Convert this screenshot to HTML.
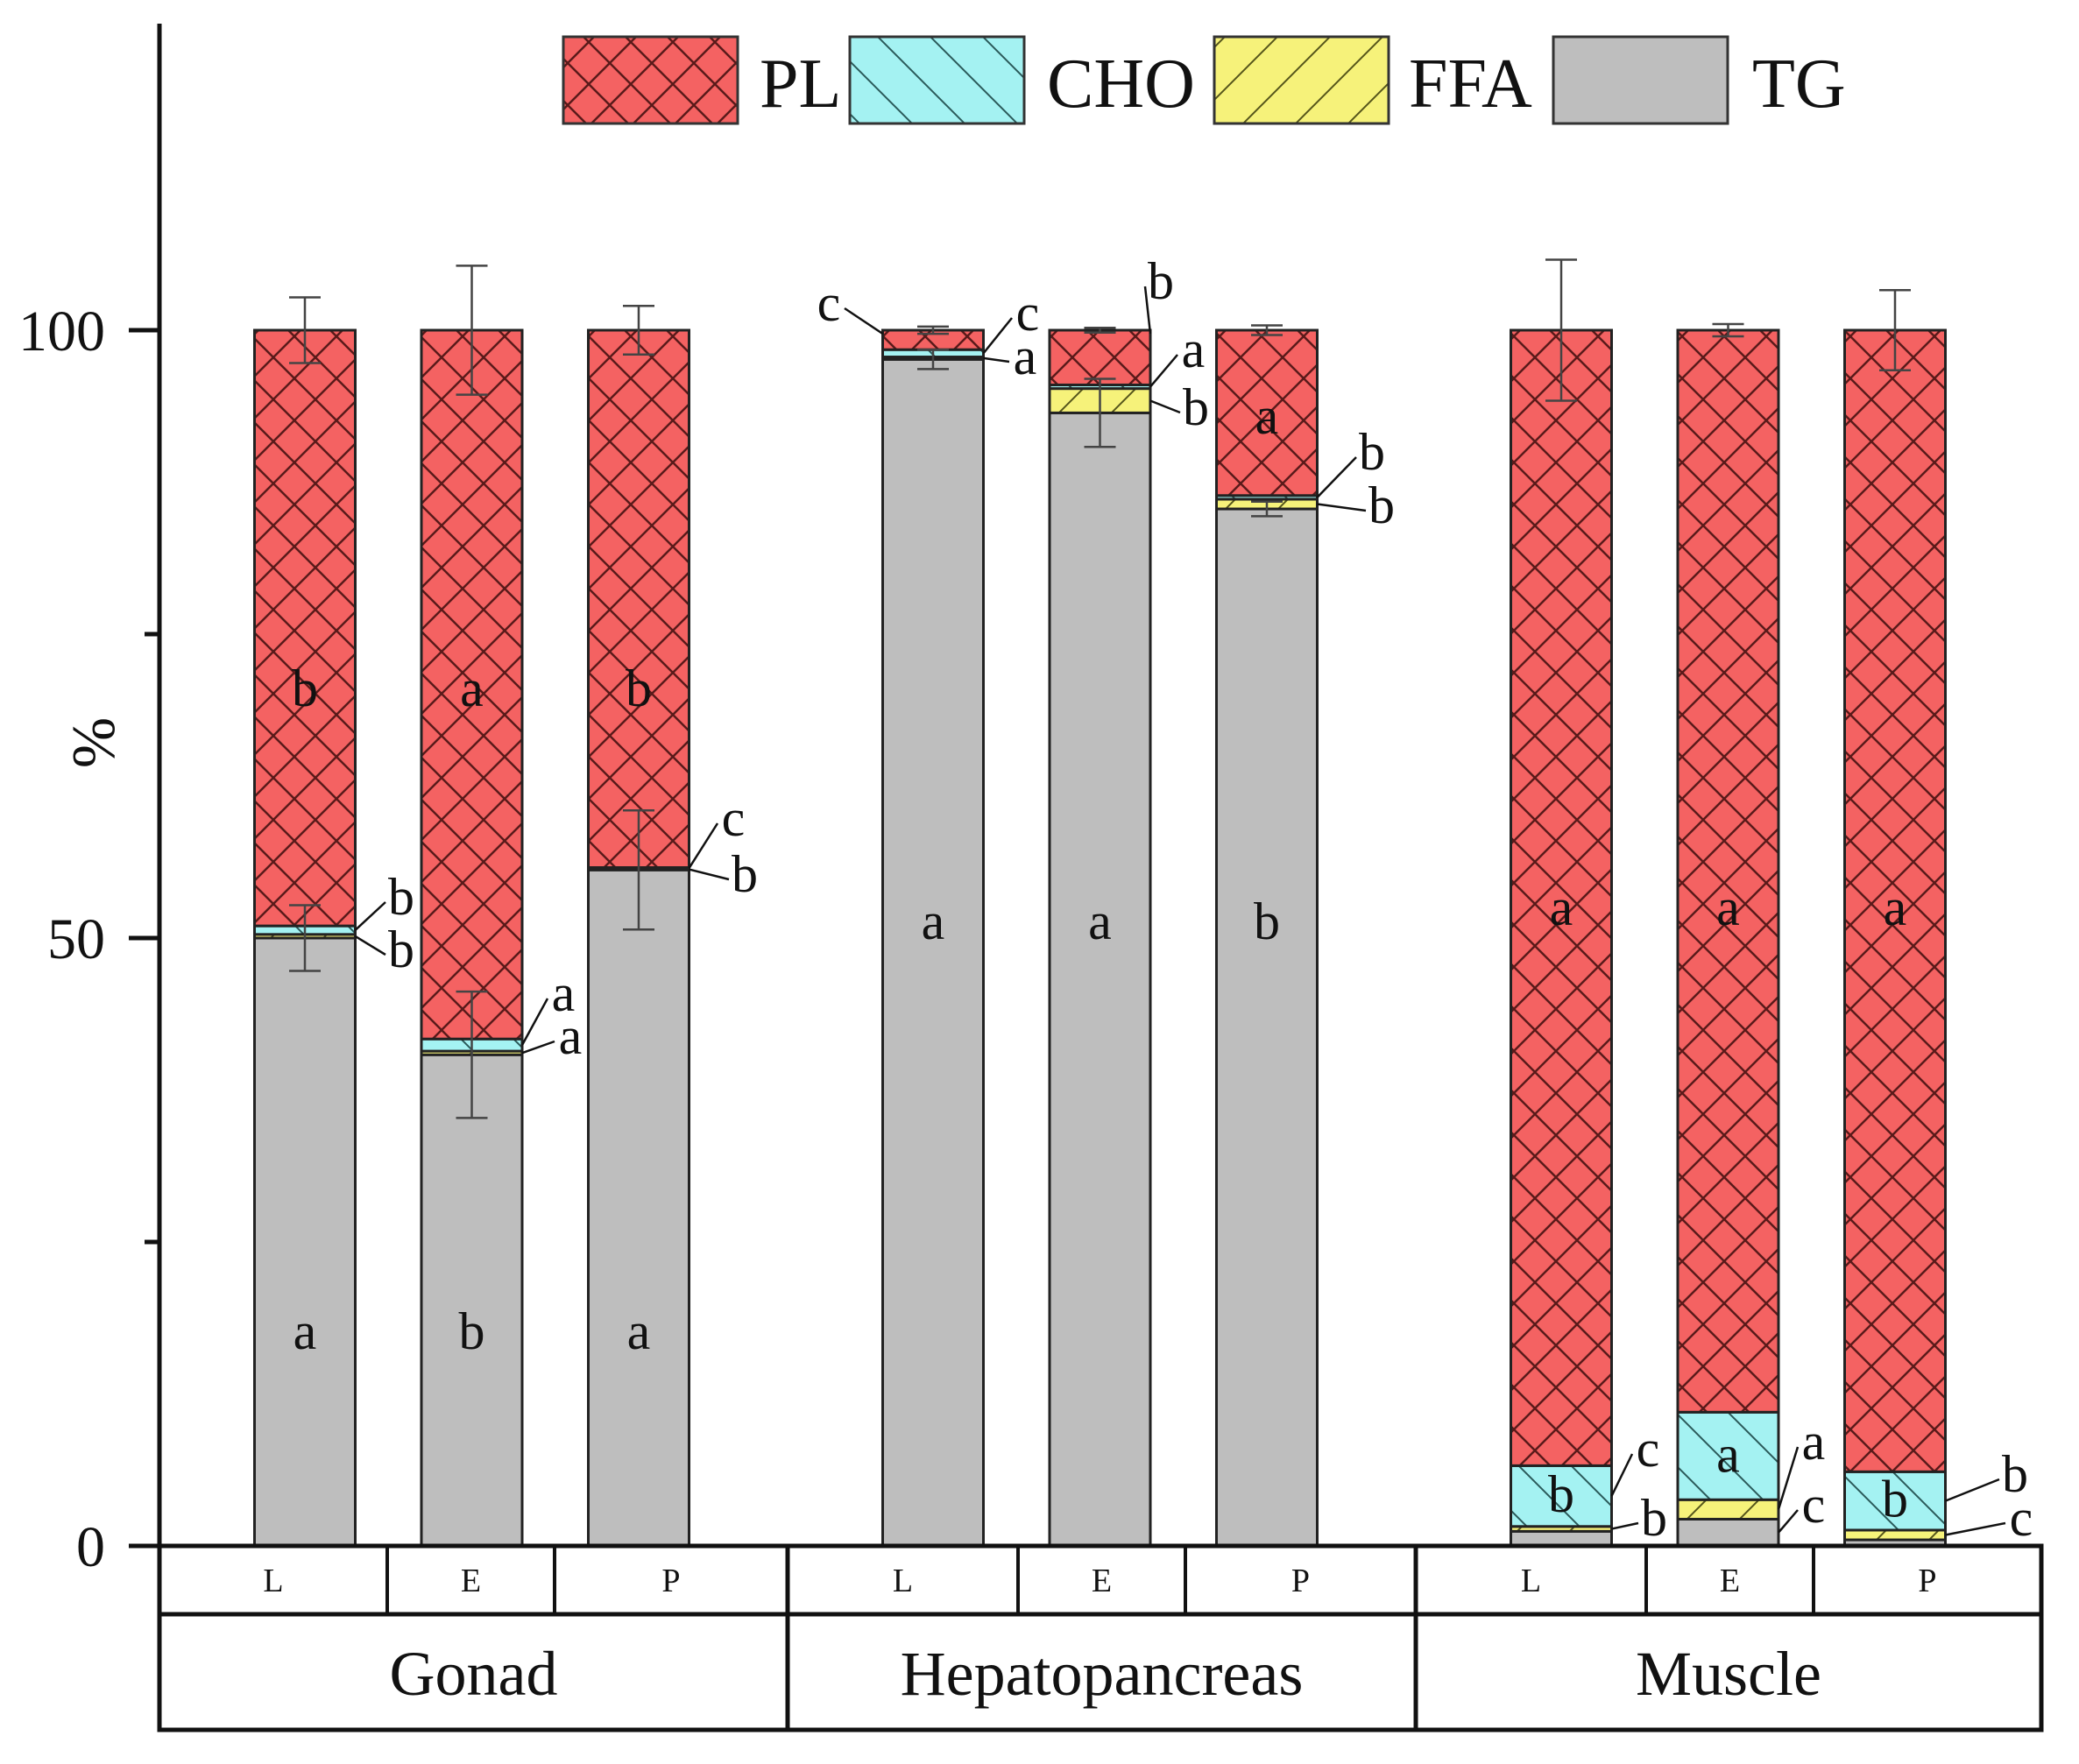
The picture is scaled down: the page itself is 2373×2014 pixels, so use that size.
<!DOCTYPE html>
<html><head><meta charset="utf-8"><style>
html,body{margin:0;padding:0;background:#fff;}
svg{display:block;}
text{font-family:"Liberation Serif",serif;fill:#111;}
</style></head><body>
<svg id="chart" width="2373" height="2014" viewBox="0 0 2373 2014" xmlns="http://www.w3.org/2000/svg">
<defs>
<pattern id="pPL" patternUnits="userSpaceOnUse" width="48" height="48"><rect width="48" height="48" fill="#f46262"/><path d="M0,0L48,48M48,0L0,48" stroke="#5a1a1a" stroke-width="2.5"/></pattern>
<pattern id="pCHO" patternUnits="userSpaceOnUse" width="60" height="60"><rect width="60" height="60" fill="#a4f2f2"/><path d="M0,0L60,60M-30,30L30,90M30,-30L90,30" stroke="#2a5a5a" stroke-width="2"/></pattern>
<pattern id="pFFA" patternUnits="userSpaceOnUse" width="60" height="60"><rect width="60" height="60" fill="#f6f27a"/><path d="M0,60L60,0M-30,30L30,-30M30,90L90,30" stroke="#55551a" stroke-width="2"/></pattern>
</defs>
<g id="plot"></g>
</svg>
<script>
const groups = ["Gonad","Hepatopancreas","Muscle"];
const stages = ["L","E","P"];
const seriesNames = ["TG","FFA","CHO","PL"];
const tgVals  = [50.0, 40.4, 55.6, 97.6, 93.2, 85.3, 1.2, 2.2, 0.5];
const ffaVals = [0.3, 0.3, 0.1, 0.2, 2.0, 0.8, 0.4, 1.6, 0.8];
const choVals = [0.7, 1.0, 0.1, 0.6, 0.3, 0.3, 5.0, 7.2, 4.8];
const plErr = [2.7, 5.3, 2.0, 0.3, 0.2, 0.4, 5.8, 0.5, 3.3];
const tgErr = [2.7, 5.2, 4.9, 0.8, 2.8, 0.6, 0, 0, 0];
const yTicks = [0, 50, 100];
const yMinor = [25, 75];
const plLetters = ["b","a","b","","","a","a","a","a"];
const tgLetters = ["a","b","a","a","a","b","","",""];
const choLetters = ["","","","","","","b","a","b"];

const S = document.getElementById('chart');
const G = document.getElementById('plot');
const NS = "http://www.w3.org/2000/svg";
function mk(tag, at, parent){const e=document.createElementNS(NS,tag);for(const k in at)e.setAttribute(k,at[k]);(parent||G).appendChild(e);return e;}
const y0 = 1765, pxPer = 13.88;
function yScale(v){return y0 - v*pxPer;}
const barW = 115;
function xCenter(i){const g=Math.floor(i/3), s=i%3; return 348 + g*717 + s*190.5;}
const fills = {TG:"#bebebe",FFA:"url(#pFFA)",CHO:"url(#pCHO)",PL:"url(#pPL)"};

for(let i=0;i<9;i++){
  const cx=xCenter(i), x=cx-barW/2;
  const vals=[tgVals[i],ffaVals[i],choVals[i]];
  const cum=[0];
  for(let k=0;k<3;k++)cum.push(cum[k]+vals[k]);
  const segs=[[0,cum[1]],[cum[1],cum[2]],[cum[2],cum[3]],[cum[3],100]];
  segs.forEach((sg,k)=>{
    const r=mk('rect',{x:x,y:yScale(sg[1]),width:barW,height:Math.max(0,yScale(sg[0])-yScale(sg[1])),fill:fills[seriesNames[k]],stroke:"#222","stroke-width":3});
    
    
  });
  const eb=(val,err)=>{ if(err<=0)return;
    const l=mk('path',{d:`M${cx},${yScale(val+err)}V${yScale(val-err)}M${cx-18},${yScale(val+err)}H${cx+18}M${cx-18},${yScale(val-err)}H${cx+18}`,stroke:"#444","stroke-width":2.5,fill:"none"});
    
    
  };
  eb(100,plErr[i]); eb(tgVals[i],tgErr[i]);
  const addT=(txt,xx,yy,name)=>{ if(!txt)return; const t=mk('text',{x:xx,y:yy,"font-size":60,"text-anchor":"middle"}); t.textContent=txt;
    
     };
  const plY=[806,806,806,495,495,495,1056,1056,1056][i];
  const tgY=[1540,1540,1540,1072,1072,1072,0,0,0][i];
  addT(plLetters[i],cx,plY,'pl-significance-letter');
  addT(tgLetters[i],cx,tgY,'tg-significance-letter');
  addT(choLetters[i],cx,yScale(cum[2]+choVals[i]/2)+18,'cho-significance-letter');
}

// callouts: [barIndex, segment(0=TG,1=FFA,2=CHO,3=PL), side, labelX, labelY, letter]
const callouts = [
 [0,2,1,458,1026,"b"],[0,1,1,458,1086,"b"],
 [1,2,1,643,1136,"a"],[1,1,1,651,1185,"a"],
 [2,2,1,837,936,"c"],[2,1,1,850,1000,"b"],
 [3,3,-1,946,348,"c"],[3,2,1,1173,359,"c"],[3,1,1,1170,409,"a"],
 [4,3,1,1325,323,"b"],[4,2,1,1362,401,"a"],[4,1,1,1365,467,"b"],
 [5,2,1,1566,518,"b"],[5,1,1,1577,579,"b"],
 [6,2,1,1881,1656,"c"],[6,1,1,1888,1735,"b"],
 [7,1,1,2070,1648,"a"],[7,0,1,2070,1720,"c"],
 [8,2,1,2300,1685,"b"],[8,1,1,2307,1735,"c"]
];
callouts.forEach(c=>{
  const i=c[0], seg=c[1];
  const vals=[tgVals[i],ffaVals[i],choVals[i],100-tgVals[i]-ffaVals[i]-choVals[i]];
  let lo=0;for(let k=0;k<seg;k++)lo+=vals[k];
  const ay = seg===3 ? yScale(100)+4 : yScale(lo+vals[seg]/2);
  const ax = xCenter(i)+c[2]*barW/2;
  const lx = c[3]-c[2]*18, ly=c[4]+4;
  const l=mk('line',{x1:ax,y1:ay,x2:lx,y2:ly,stroke:"#111","stroke-width":2.5});
  
  
  const t=mk('text',{x:c[3],y:c[4]+18,"font-size":60,"text-anchor":"middle"}); t.textContent=c[5];
  
  
});

const ax=mk('line',{x1:182,y1:27,x2:182,y2:y0,stroke:"#111","stroke-width":5});


yTicks.forEach(v=>{
  const tk=mk('line',{x1:147,y1:yScale(v),x2:182,y2:yScale(v),stroke:"#111","stroke-width":5});
  
  
  const t=mk('text',{x:120,y:yScale(v)+23,"font-size":66,"text-anchor":"end"}); t.textContent=v;
  
  
});
yMinor.forEach(v=>{
  const tk=mk('line',{x1:165,y1:yScale(v),x2:182,y2:yScale(v),stroke:"#111","stroke-width":5});
  
  
});
const yt=mk('text',{x:0,y:0,"font-size":70,"text-anchor":"middle",transform:"translate(130,848) rotate(-90)"}); yt.textContent="%";



const gEdges=[182,899,1616,2330];
const tb=mk('rect',{x:182,y:y0,width:gEdges[3]-182,height:210,fill:"none",stroke:"#111","stroke-width":5});


mk('line',{x1:182,y1:1843,x2:gEdges[3],y2:1843,stroke:"#111","stroke-width":5});
const sDiv=[[442,633],[1162,1353],[1879,2070]];
for(let g=0;g<3;g++){
  if(g>0) mk('line',{x1:gEdges[g],y1:y0,x2:gEdges[g],y2:1975,stroke:"#111","stroke-width":5});
  sDiv[g].forEach(xx=>mk('line',{x1:xx,y1:y0,x2:xx,y2:1843,stroke:"#111","stroke-width":4}));
  const cells=[gEdges[g],sDiv[g][0],sDiv[g][1],gEdges[g+1]];
  for(let s=0;s<3;s++){
    const t=mk('text',{x:(cells[s]+cells[s+1])/2,y:1817,"font-size":38,"text-anchor":"middle"}); t.textContent=stages[s];
    
    
  }
  const t=mk('text',{x:(gEdges[g]+gEdges[g+1])/2,y:1935,"font-size":72,"text-anchor":"middle"}); t.textContent=groups[g];
  
  
}

const legend=[["PL",643,867],["CHO",970,1195],["FFA",1386,1608],["TG",1773,2000]];
legend.forEach(L=>{
  const r=mk('rect',{x:L[1],y:42,width:199,height:99,fill:fills[L[0]],stroke:"#333","stroke-width":3});
  
  
  const t=mk('text',{x:L[2],y:122,"font-size":80}); t.textContent=L[0];
  
  
});
</script>
</body></html>
